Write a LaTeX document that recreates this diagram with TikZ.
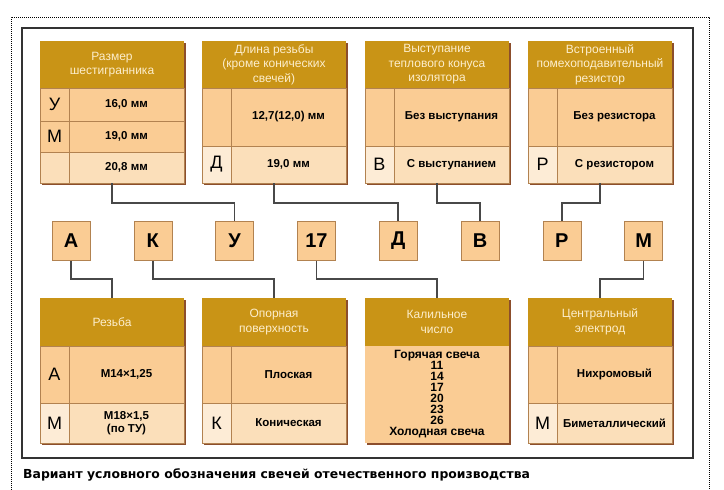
\documentclass[tikz,border=0pt]{standalone}
\usepackage{fontspec}
\setmainfont{Liberation Sans}
\newfontfamily\captionfont{DejaVu Sans}
\usetikzlibrary{positioning, shadows}
\definecolor{headgold}{RGB}{201,148,22}
\definecolor{headtext}{RGB}{253,238,204}
\definecolor{peach}{RGB}{250,204,148}
\definecolor{lightpeach}{RGB}{251,223,186}
\definecolor{palepeach}{RGB}{253,236,214}
\definecolor{celline}{RGB}{178,130,80}
\definecolor{boxshadow}{RGB}{140,78,44}
\definecolor{linkgrey}{RGB}{72,72,72}

\begin{document}
\begin{tikzpicture}[
    x=1pt, y=-1pt,
    frame/.style={anchor=north west, minimum width=144pt, inner sep=0pt, outer sep=0pt, fill=peach,
        drop shadow={shadow xshift=2pt, shadow yshift=-2pt, fill=boxshadow, opacity=1}},
    head/.style={anchor=north west, minimum width=144pt, minimum height=47pt, inner sep=0pt, outer sep=0pt,
        fill=headgold, text=headtext, align=center, font=\fontsize{12}{14.5}\selectfont},
    code/.style={anchor=north west, minimum width=29pt, inner sep=0pt, outer sep=0pt, fill=peach,
        draw=celline, line width=0.5pt, font=\fontsize{18}{18}\selectfont},
    val/.style={anchor=north west, minimum width=115pt, inner sep=0pt, outer sep=0pt, fill=peach,
        draw=celline, line width=0.5pt, align=center, font=\bfseries\fontsize{11.5}{13}\selectfont},
    letter/.style={draw=celline, line width=0.5pt, fill=peach, minimum width=38pt, minimum height=39pt,
        inner sep=0pt, font=\bfseries\fontsize{20}{20}\selectfont},
    link/.style={draw=linkgrey, line width=1.5pt}
]
    \useasboundingbox (0,0) rectangle (724,490);
    \draw[line width=0.7pt, dash pattern=on 1pt off 1pt] (11,492) -- (11,17) -- (709,17) -- (709,492);
    \draw[black!80, line width=1.2pt] (22,28) rectangle (693,458);

    % top row
    \node[frame, minimum height=142pt] (shestbox) at (40,41) {};
    \node[head] (shesthead) at (40,41) {Размер\\шестигранника};
    \node[code, minimum height=33pt] (shestU) at (shesthead.south west) {У};
    \node[val, minimum height=33pt] (shestUv) at (shestU.north east) {16,0 мм};
    \node[code, minimum height=31pt] (shestM) at (shestU.south west) {М};
    \node[val, minimum height=31pt] (shestMv) at (shestM.north east) {19,0 мм};
    \node[code, minimum height=31pt, fill=lightpeach] (shestN) at (shestM.south west) {};
    \node[val, minimum height=31pt, fill=lightpeach] (shestNv) at (shestN.north east) {20,8 мм};

    \node[frame, minimum height=142pt] (rezbox) at (202,41) {};
    \node[head] (rezhead) at (202,41) {Длина резьбы\\(кроме конических\\свечей)};
    \node[code, minimum height=58pt] (rezN) at (rezhead.south west) {};
    \node[val, minimum height=58pt] (rezNv) at (rezN.north east) {12,7(12,0) мм};
    \node[code, minimum height=37pt, fill=palepeach] (rezD) at (rezN.south west) {Д};
    \node[val, minimum height=37pt, fill=lightpeach] (rezDv) at (rezD.north east) {19,0 мм};

    \node[frame, minimum height=142pt] (konbox) at (365,41) {};
    \node[head] (konhead) at (365,41) {Выступание\\теплового конуса\\изолятора};
    \node[code, minimum height=58pt] (konN) at (konhead.south west) {};
    \node[val, minimum height=58pt] (konNv) at (konN.north east) {Без выступания};
    \node[code, minimum height=37pt, fill=palepeach] (konV) at (konN.south west) {В};
    \node[val, minimum height=37pt, fill=lightpeach] (konVv) at (konV.north east) {С выступанием};

    \node[frame, minimum height=142pt] (resbox) at (528,41) {};
    \node[head] (reshead) at (528,41) {Встроенный\\помехоподавительный\\резистор};
    \node[code, minimum height=58pt] (resN) at (reshead.south west) {};
    \node[val, minimum height=58pt] (resNv) at (resN.north east) {Без резистора};
    \node[code, minimum height=37pt, fill=palepeach] (resR) at (resN.south west) {Р};
    \node[val, minimum height=37pt, fill=lightpeach] (resRv) at (resR.north east) {С резистором};

    % marking
    \node[letter] (lA) at (71,241) {А};
    \node[letter, right=43.3pt of lA] (lK) {К};
    \node[letter, right=43.3pt of lK] (lU) {У};
    \node[letter, right=43.3pt of lU] (l17) {17};
    \node[letter, right=43.3pt of l17] (lD) {Д};
    \node[letter, right=43.3pt of lD] (lV) {В};
    \node[letter, right=43.3pt of lV] (lR) {Р};
    \node[letter, right=43.3pt of lR] (lM) {М};

    % bottom row
    \node[frame, minimum height=145pt] (thrbox) at (40,298) {};
    \node[head, minimum height=48pt] (thrhead) at (40,298) {Резьба};
    \node[code, minimum height=57pt] (thrA) at (thrhead.south west) {А};
    \node[val, minimum height=57pt] (thrAv) at (thrA.north east) {М14×1,25};
    \node[code, minimum height=40pt, fill=palepeach] (thrM) at (thrA.south west) {М};
    \node[val, minimum height=40pt, fill=lightpeach] (thrMv) at (thrM.north east) {М18×1,5\\(по ТУ)};

    \node[frame, minimum height=145pt] (supbox) at (202,298) {};
    \node[head, minimum height=48pt] (suphead) at (202,298) {Опорная\\поверхность};
    \node[code, minimum height=57pt] (supN) at (suphead.south west) {};
    \node[val, minimum height=57pt] (supNv) at (supN.north east) {Плоская};
    \node[code, minimum height=40pt, fill=palepeach] (supK) at (supN.south west) {К};
    \node[val, minimum height=40pt, fill=lightpeach] (supKv) at (supK.north east) {Коническая};

    \node[frame, minimum height=145pt] (heatbox) at (365,298) {};
    \node[head, minimum height=48pt] (heathead) at (365,298) {Калильное\\число};
    \node[val, minimum width=144pt, minimum height=97pt, draw=none, font=\bfseries\fontsize{12}{11}\selectfont]
        (heatlist) at (heathead.south west) {Горячая свеча\\11\\14\\17\\20\\23\\26\\Холодная свеча};

    \node[frame, minimum height=145pt] (elbox) at (528,298) {};
    \node[head, minimum height=48pt] (elhead) at (528,298) {Центральный\\электрод};
    \node[code, minimum height=57pt] (elN) at (elhead.south west) {};
    \node[val, minimum height=57pt] (elNv) at (elN.north east) {Нихромовый};
    \node[code, minimum height=40pt, fill=palepeach] (elM) at (elN.south west) {М};
    \node[val, minimum height=40pt, fill=lightpeach] (elMv) at (elM.north east) {Биметаллический};

    % links
    \draw[link] (shestbox.south) -- ++(0,20) -| (lU.north);
    \draw[link] (rezbox.south) -- ++(0,20) -| (lD.north);
    \draw[link] (konbox.south) -- ++(0,20) -| (lV.north);
    \draw[link] (resbox.south) -- ++(0,20) -| (lR.north);
    \draw[link] (lA.south) -- ++(0,18) -| (thrbox.north);
    \draw[link] (lK.south) -- ++(0,18) -| (supbox.north);
    \draw[link] (l17.south) -- ++(0,18) -| (heatbox.north);
    \draw[link] (lM.south) -- ++(0,18) -| (elbox.north);

    \node[anchor=west, inner sep=0pt, font=\captionfont\bfseries\fontsize{12.4}{14}\selectfont] (caption) at (23,475)
        {Вариант условного обозначения свечей отечественного производства};
\end{tikzpicture}
\end{document}
